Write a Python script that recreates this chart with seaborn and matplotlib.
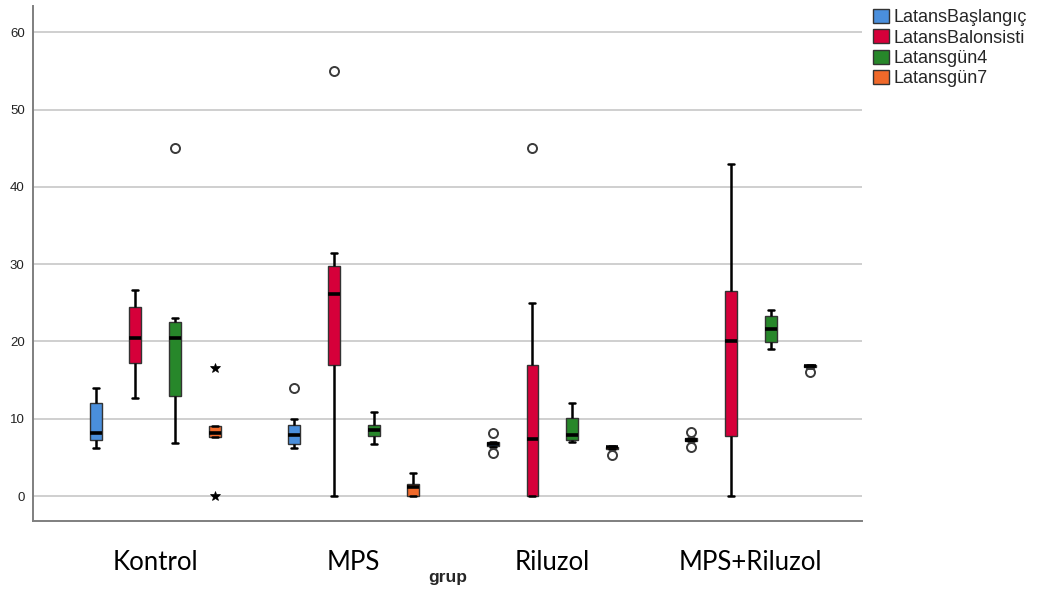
import numpy as np
import pandas as pd
import matplotlib
matplotlib.use("Agg")
import matplotlib.pyplot as plt
import seaborn as sns

# ---- data ----
groups = ["Kontrol", "MPS", "Riluzol", "MPS+Riluzol"]
series = ["LatansBaşlangıç", "LatansBalonsisti", "Latansgün4", "Latansgün7"]

baslangic = {
    "Kontrol":     [6.25, 6.8, 7.3, 7.6, 8.1, 10.0, 12.0, 13.0, 14.0],
    "MPS":         [6.25, 6.5, 6.7, 7.3, 7.9, 8.5, 9.2, 9.96, 14.0],
    "Riluzol":     [5.55, 6.4, 6.45, 6.6, 6.7, 6.85, 7.0, 7.05, 8.1],
    "MPS+Riluzol": [6.4, 7.1, 7.15, 7.25, 7.3, 7.4, 7.5, 7.55, 8.3],
}
balonsisti = {
    "Kontrol":     [12.7, 15.0, 17.2, 19.0, 20.5, 22.0, 24.5, 25.5, 26.6],
    "MPS":         [0.0, 8.0, 16.9, 22.0, 26.1, 28.0, 29.7, 31.5, 55.0],
    "Riluzol":     [0.0, 0.0, 0.0, 3.0, 7.4, 12.0, 16.9, 25.0, 45.0],
    "MPS+Riluzol": [0.0, 4.0, 7.75, 15.0, 20.0, 24.0, 26.5, 35.0, 43.0],
}
gun4 = {
    "Kontrol":     [6.9, 10.0, 13.0, 17.0, 20.5, 21.5, 22.5, 23.0, 45.0],
    "MPS":         [6.7, 7.3, 7.8, 8.2, 8.5, 8.9, 9.2, 10.0, 10.9],
    "Riluzol":     [7.0, 7.1, 7.25, 7.6, 7.9, 9.0, 10.05, 11.0, 12.0],
    "MPS+Riluzol": [19.05, 19.5, 19.9, 20.8, 21.6, 22.5, 23.3, 23.7, 24.05],
}
gun7 = {
    "Kontrol":     [0.0, 7.6, 7.6, 8.0, 8.2, 8.6, 9.1, 9.1, 16.6],
    "MPS":         [0.0, 0.0, 0.0, 0.8, 1.2, 1.4, 1.55, 2.2, 3.0],
    "Riluzol":     [5.3, 6.05, 6.1, 6.2, 6.3, 6.35, 6.4, 6.42, 6.45],
    "MPS+Riluzol": [16.1, 16.6, 16.65, 16.7, 16.8, 16.85, 16.9, 16.95, 17.0],
}
# box whose outliers are "extreme" values (drawn as stars)
extreme_box = ("Kontrol", "Latansgün7")

colors = ["#4a8fdc", "#d6003a", "#27872a", "#f0692a"]

rows = []
for name, d in zip(series, [baslangic, balonsisti, gun4, gun7]):
    for g in groups:
        for v in d[g]:
            rows.append({"grup": g, "seri": name, "deger": v})
df = pd.DataFrame(rows)

sns.set_style("white")
plt.rcParams["font.family"] = ["Liberation Sans", "DejaVu Sans"]

fig = plt.figure(figsize=(10.37, 5.95), dpi=100)
ax = fig.add_axes([33 / 1037, 1 - 521 / 595, (862 - 33) / 1037, (521 - 6) / 595])

sns.boxplot(
    data=df, x="grup", y="deger", hue="seri", order=groups, hue_order=series,
    palette=colors, width=0.8, gap=0.7, saturation=1, whis=1.5,
    linecolor="#333333", linewidth=1.0, ax=ax,
    medianprops={"color": "black", "linewidth": 2.6},
    whiskerprops={"color": "black", "linewidth": 1.8},
    capprops={"color": "black", "linewidth": 1.8},
    flierprops={"marker": "o", "markersize": 6.5, "markerfacecolor": "none",
                "markeredgecolor": "#3a3a3a", "markeredgewidth": 1.4},
)

# extreme values shown with stars
gi = groups.index(extreme_box[0])
si = series.index(extreme_box[1])
xpos = gi + (-0.3 + 0.2 * si)
for ln in ax.lines:
    xd = np.asarray(ln.get_xdata(), dtype=float)
    if ln.get_marker() == "o" and len(xd) and np.allclose(xd, xpos, atol=0.02):
        ln.set_marker("*")
        ln.set_markerfacecolor("black")
        ln.set_markeredgecolor("black")
        ln.set_markeredgewidth(0.5)
        ln.set_markersize(7)

ax.set_xlim(-0.616, 3.56)
ax.set_ylim(-3.23, 63.4)
ax.set_yticks([0, 10, 20, 30, 40, 50, 60])
ax.yaxis.grid(True, color="#cccccc", linewidth=1.3)
ax.set_axisbelow(True)
for s in ["top", "right"]:
    ax.spines[s].set_visible(False)
for s in ["left", "bottom"]:
    ax.spines[s].set_color("#7f7f7f")
    ax.spines[s].set_linewidth(1.4)
ax.tick_params(axis="y", labelsize=9.5, length=0, pad=6, colors="#222222")
ax.tick_params(axis="x", length=0, pad=21)
for lab in ax.get_xticklabels():
    lab.set_fontfamily("Lato")
    lab.set_fontsize(18.5)
    lab.set_color("black")
ax.set_ylabel("")
ax.set_xlabel("grup", fontsize=12.5, fontweight="bold", labelpad=-4)

handles, labels = ax.get_legend_handles_labels()
if ax.get_legend() is not None:
    ax.get_legend().remove()
for h in handles:
    try:
        h.set_edgecolor("#333333")
        h.set_linewidth(1.0)
    except Exception:
        pass
fig.legend(handles, labels, loc="upper left", bbox_to_anchor=(866 / 1037, 1 - 2 / 595),
           frameon=False, fontsize=13, handlelength=0.9, handleheight=0.8,
           handletextpad=0.25, labelspacing=0.17, borderaxespad=0)

fig.savefig("out.png", dpi=100)
